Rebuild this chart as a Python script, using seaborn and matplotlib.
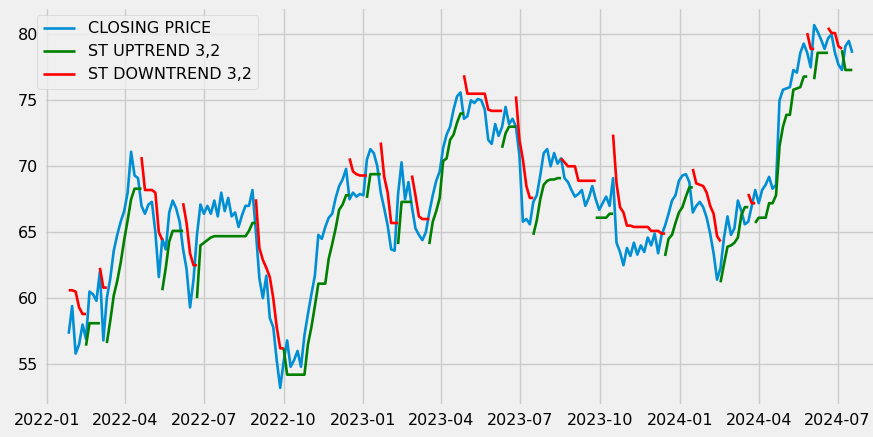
import numpy as np
import pandas as pd
import matplotlib
matplotlib.use("Agg")
import matplotlib.pyplot as plt
import matplotlib.dates as mdates
from matplotlib.lines import Line2D
import seaborn as sns

N = np.nan

# one reading every 4 days, starting 2022-01-26
start_date = "2022-01-26"
step = "4D"

close_price = [
    57.3, 59.4, 55.8, 56.5, 58.0, 56.9, 60.5, 60.3, 59.8, 62.0,
    56.8, 60.0, 61.5, 63.6, 64.8, 65.8, 66.6, 68.0, 71.1, 69.3,
    69.1, 67.0, 66.4, 67.1, 67.3, 65.0, 61.6, 64.5, 63.7, 66.5,
    67.4, 66.8, 65.8, 63.7, 62.2, 59.3, 61.4, 64.8, 67.1, 66.4,
    67.0, 66.4, 67.4, 66.2, 68.0, 66.6, 67.6, 66.2, 66.5, 65.4,
    66.3, 67.0, 67.0, 68.2, 65.0, 61.5, 60.0, 61.7, 58.5, 57.8,
    55.3, 53.2, 55.2, 56.8, 54.8, 55.3, 56.0, 54.8, 57.2, 58.8,
    60.3, 61.7, 64.8, 64.5, 65.4, 66.1, 66.4, 67.6, 68.5, 69.0,
    69.8, 67.5, 68.0, 67.7, 67.9, 67.8, 70.5, 71.3, 71.0, 70.0,
    68.0, 66.8, 65.5, 63.7, 63.6, 67.9, 70.3, 67.5, 68.8, 66.9,
    65.3, 64.8, 64.4, 65.0, 66.5, 67.8, 68.9, 69.6, 71.4, 72.4,
    73.0, 74.3, 75.3, 75.6, 73.6, 73.8, 75.0, 74.8, 75.1, 75.0,
    74.3, 72.0, 71.7, 73.2, 72.3, 73.0, 74.5, 73.2, 73.6, 73.0,
    70.8, 65.8, 66.0, 65.6, 67.3, 67.8, 69.3, 71.0, 71.3, 70.0,
    71.0, 70.2, 70.6, 69.1, 68.8, 68.2, 67.7, 67.9, 68.2, 67.0,
    67.6, 68.5, 67.5, 66.7, 67.2, 67.7, 67.0, 69.1, 64.2, 63.5,
    62.5, 63.8, 63.2, 64.2, 63.3, 64.0, 63.5, 64.6, 64.0, 64.9,
    63.4, 64.8, 65.5, 66.4, 67.4, 67.8, 68.9, 69.3, 69.4, 68.8,
    66.5, 67.0, 67.3, 66.9, 66.1, 64.9, 63.4, 61.4, 62.3, 64.6,
    66.2, 64.8, 65.3, 67.4, 66.6, 65.6, 65.8, 67.0, 68.2, 67.2,
    68.2, 68.6, 69.2, 68.3, 68.6, 75.0, 75.8, 75.9, 76.0, 77.3,
    77.1, 78.6, 79.3, 78.6, 77.5, 80.7, 80.2, 79.6, 78.9, 79.7,
    80.0, 78.6, 77.7, 77.3, 79.1, 79.5, 78.6,
]

st_uptrend = [
    N, N, N, N, N, 56.4, 58.1, 58.1, 58.1, 58.1,
    N, 56.6, 58.3, 60.2, 61.3, 62.7, 64.4, 65.9, 67.5, 68.3,
    68.3, 68.3, N, N, N, N, N, 60.6, 62.3, 64.3,
    65.1, 65.1, 65.1, 65.1, N, N, N, 60.0, 64.0, 64.2,
    64.4, 64.6, 64.7, 64.7, 64.7, 64.7, 64.7, 64.7, 64.7, 64.7,
    64.7, 64.7, 65.1, 65.7, 65.7, N, N, N, N, N,
    N, N, 56.2, 54.2, 54.2, 54.2, 54.2, 54.2, 54.2, 56.5,
    57.8, 59.4, 61.1, 61.1, 61.1, 63.0, 64.1, 65.3, 66.7, 67.1,
    67.8, 67.8, N, N, N, N, 67.6, 69.4, 69.4, 69.4,
    69.4, N, N, N, N, 64.1, 67.3, 67.3, 67.3, 67.3,
    N, N, N, N, 64.1, 65.8, 66.6, 67.6, 70.4, 70.6,
    72.0, 72.4, 73.3, 74.0, 74.0, N, N, N, N, N,
    N, N, N, N, N, 71.4, 72.5, 73.0, 73.0, 73.0,
    N, N, N, N, 64.8, 65.9, 67.5, 68.6, 68.9, 69.0,
    69.0, 69.1, 69.1, N, N, N, N, N, N, N,
    N, N, 66.1, 66.1, 66.1, 66.1, 66.4, 66.4, N, N,
    N, N, N, N, N, N, N, N, N, N,
    N, N, 63.2, 64.5, 64.8, 65.7, 66.5, 66.9, 67.7, 68.4,
    68.4, N, N, N, N, N, N, N, 61.2, 62.6,
    63.9, 64.0, 64.2, 64.6, 66.3, 66.9, 66.9, N, 65.7, 66.1,
    66.1, 66.1, 67.2, 67.2, 67.8, 71.5, 73.0, 73.9, 73.9, 75.8,
    75.9, 76.0, 76.8, 76.8, N, 76.6, 78.6, 78.6, 78.6, 78.6,
    N, N, N, 78.8, 77.3, 77.3, 77.3,
]

st_downtrend = [
    60.6, 60.6, 60.5, 59.3, 58.8, 58.8, N, N, N, 62.3,
    60.8, 60.8, N, N, N, N, N, N, N, N,
    N, 70.7, 68.2, 68.2, 68.2, 68.0, 65.0, 64.4, N, N,
    N, N, N, 67.2, 65.7, 63.4, 62.5, 62.5, N, N,
    N, N, N, N, N, N, N, N, N, N,
    N, N, N, N, 67.5, 63.8, 62.9, 62.3, 61.6, 60.0,
    57.8, 56.2, 56.2, N, N, N, N, N, N, N,
    N, N, N, N, N, N, N, N, N, N,
    N, 70.6, 69.6, 69.4, 69.3, 69.3, 69.3, N, N, N,
    71.8, 69.2, 68.0, 65.7, 65.7, 65.7, N, N, N, 69.3,
    67.8, 66.2, 66.0, 66.0, 66.0, N, N, N, N, N,
    N, N, N, N, 76.9, 75.5, 75.5, 75.5, 75.5, 75.5,
    75.5, 74.3, 74.2, 74.2, 74.2, 74.2, N, N, N, 75.3,
    72.0, 70.5, 68.5, 67.6, 67.6, N, N, N, N, N,
    N, N, 70.6, 70.3, 70.0, 70.0, 70.0, 68.9, 68.9, 68.9,
    68.9, 68.9, 68.9, N, N, N, N, 72.4, 68.7, 66.9,
    66.5, 65.5, 65.5, 65.4, 65.4, 65.4, 65.4, 65.4, 65.1, 65.1,
    65.1, 64.9, 64.9, N, N, N, N, N, N, N,
    69.8, 68.7, 68.6, 68.5, 68.0, 67.0, 66.4, 64.7, 64.3, N,
    N, N, N, N, N, N, 67.9, 67.2, 67.2, N,
    N, N, N, N, N, N, N, N, N, N,
    N, N, N, 80.1, 78.9, 78.9, N, N, N, 80.5,
    80.1, 80.1, 79.1, 78.9, N, N, N,
]

labels = ["CLOSING PRICE", "ST UPTREND 3,2", "ST DOWNTREND 3,2"]
colors = ["#008fd5", "green", "red"]

dates = pd.date_range(start_date, periods=len(close_price), freq=step)


def segments(values):
    # split a series with gaps into separate runs so seaborn does not bridge them
    s = pd.Series(values, index=dates)
    seg = s.isna().cumsum()
    df = pd.DataFrame({"date": dates, "value": s.values, "segment": seg.values})
    return df.dropna()


plt.style.use("fivethirtyeight")
fig = plt.figure(figsize=(8.73, 4.37), dpi=100)
ax = fig.add_axes([44 / 873, 31 / 437, 833 / 873, 399 / 437])

price_df = pd.DataFrame({"date": dates, "value": close_price})
sns.lineplot(data=price_df, x="date", y="value", color=colors[0], lw=1.9, ax=ax)
for vals, col in [(st_uptrend, colors[1]), (st_downtrend, colors[2])]:
    sns.lineplot(data=segments(vals), x="date", y="value", units="segment",
                 estimator=None, sort=False, color=col, lw=1.9, ax=ax, legend=False)

ax.margins(x=0.0315, y=0.05)
ax.xaxis.set_major_locator(mdates.MonthLocator(bymonth=[1, 4, 7, 10]))
ax.xaxis.set_major_formatter(mdates.DateFormatter("%Y-%m"))
ax.set_yticks([55, 60, 65, 70, 75, 80])
ax.set_xlabel("")
ax.set_ylabel("")
ax.tick_params(axis="both", labelsize=11.5)
ax.tick_params(axis="y", pad=4)
ax.tick_params(axis="x", pad=5)
ax.grid(True, color="#cbcbcb", linewidth=1)

handles = [Line2D([0], [0], color=c, lw=1.9) for c in colors]
ax.legend(handles, labels, loc="upper left", fontsize=11.5, frameon=True,
          bbox_to_anchor=(29 / 873, 1 - 7 / 437), bbox_transform=fig.transFigure)

fig.savefig("out.png", dpi=100)
